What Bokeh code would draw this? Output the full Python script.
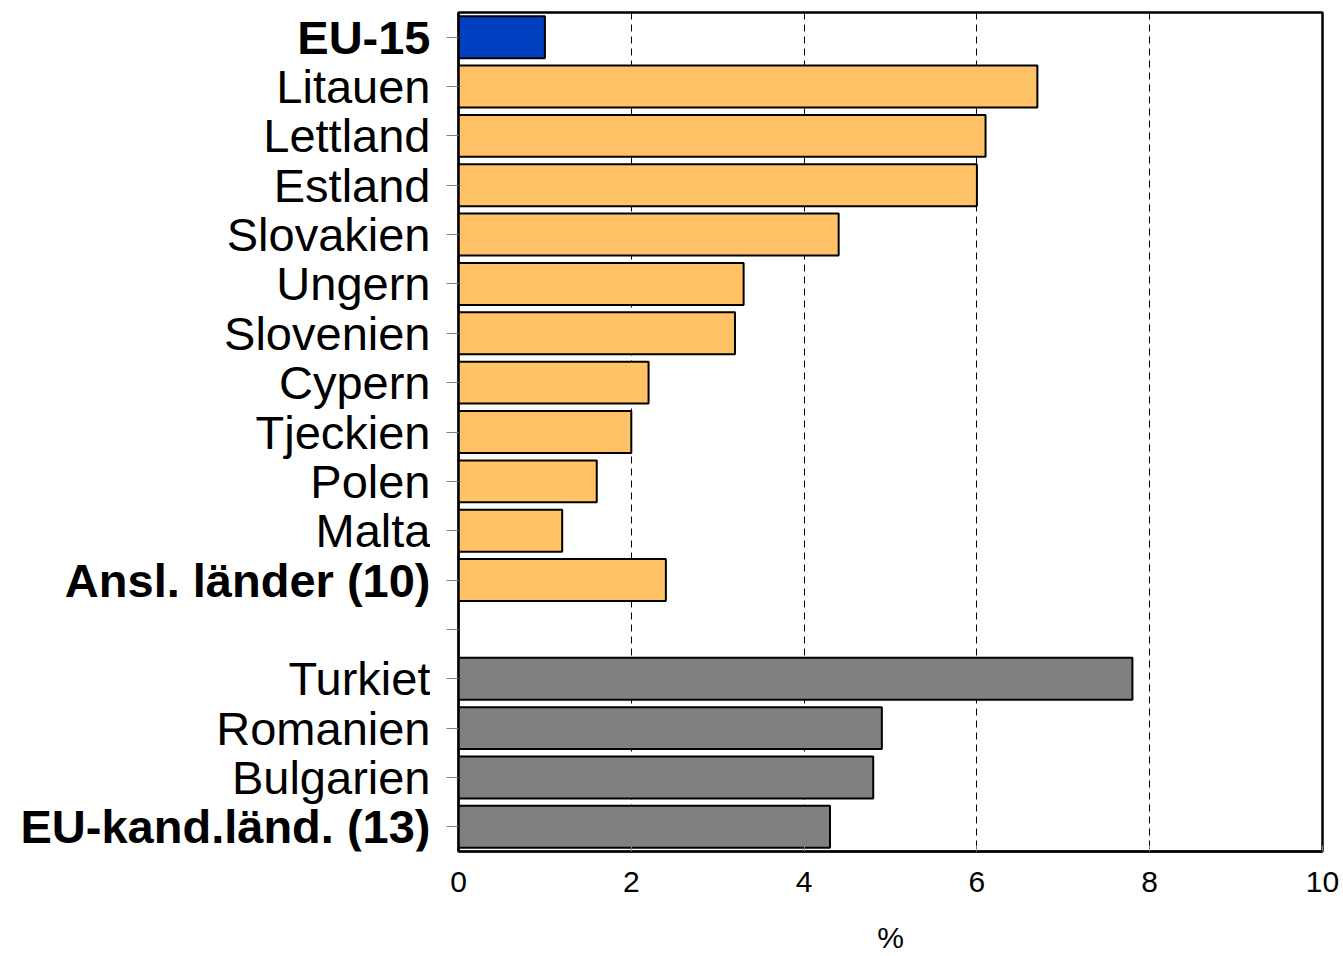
from bokeh.plotting import figure
from bokeh.models import Range1d, FixedTicker, ColumnDataSource
from bokeh.layouts import row
from bokeh.core.properties import value
from bokeh.embed import file_html
from bokeh.resources import INLINE

# ---- data (top to bottom; "" marks the empty gap row) ----
categories = ["EU-15", "Litauen", "Lettland", "Estland", "Slovakien", "Ungern",
              "Slovenien", "Cypern", "Tjeckien", "Polen", "Malta",
              "Ansl. länder (10)", "", "Turkiet", "Romanien", "Bulgarien",
              "EU-kand.länd. (13)"]
values = [1.0, 6.7, 6.1, 6.0, 4.4, 3.3, 3.2, 2.2, 2.0, 1.6, 1.2, 2.4, None,
          7.8, 4.9, 4.8, 4.3]
groups = ["eu15", "ansl", "ansl", "ansl", "ansl", "ansl", "ansl", "ansl", "ansl",
          "ansl", "ansl", "ansl", "gap", "kand", "kand", "kand", "kand"]
bold_labels = ["EU-15", "Ansl. länder (10)", "EU-kand.länd. (13)"]
x_ticks = [0, 2, 4, 6, 8, 10]
x_label = "%"

group_colors = {"eu15": "#0040C0", "ansl": "#FFC266", "kand": "#808080"}

pos = list(range(len(categories)))
rows = [(i, v, group_colors[g]) for i, v, g in zip(pos, values, groups) if v is not None]
src = ColumnDataSource(dict(y=[r[0] for r in rows], right=[r[1] for r in rows],
                            color=[r[2] for r in rows]))

H = 956
TOP = 12
BOTTOM = 105
y_range = Range1d(len(categories) - 0.5, -0.5)

# ---- main chart ----
p = figure(width=910, height=H, output_backend="svg", toolbar_location=None,
           x_range=Range1d(0, 10), y_range=y_range,
           min_border_left=28, min_border_right=18, min_border_top=TOP,
           min_border_bottom=BOTTOM)

p.hbar(y="y", left=0, right="right", height=0.85, source=src,
       fill_color="color", line_color="black", line_width=2)

p.outline_line_color = "black"
p.outline_line_width = 2.5
p.outline_line_alpha = 1.0

p.ygrid.grid_line_color = None
p.xgrid.grid_line_color = "black"
p.xgrid.grid_line_dash = "7 5"
p.xgrid.grid_line_width = 1

p.xaxis.ticker = FixedTicker(ticks=x_ticks)
p.xaxis.axis_label = x_label
p.xaxis.axis_label_text_font = "Liberation Sans"
p.xaxis.axis_label_text_font_size = "30px"
p.xaxis.axis_label_text_font_style = "normal"
p.xaxis.axis_label_text_color = "black"
p.xaxis.axis_label_standoff = 26
p.xaxis.major_label_text_font = "Liberation Sans"
p.xaxis.major_label_text_font_size = "30px"
p.xaxis.major_label_text_color = "black"
p.xaxis.major_label_standoff = 20
p.xaxis.major_tick_in = 6
p.xaxis.major_tick_out = 0
p.xaxis.major_tick_line_color = "#808080"
p.xaxis.minor_tick_line_color = None
p.xaxis.axis_line_color = "black"
p.xaxis.axis_line_width = 2

p.yaxis.ticker = FixedTicker(ticks=pos)
p.yaxis.major_label_overrides = {i: "" for i in pos}
p.yaxis.major_label_standoff = 0
p.yaxis.major_tick_out = 12
p.yaxis.major_tick_in = 0
p.yaxis.major_tick_line_color = "#808080"
p.yaxis.minor_tick_line_color = None
p.yaxis.axis_line_color = "black"
p.yaxis.axis_line_width = 2

# ---- category label column ----
lab = figure(width=430, height=H, output_backend="svg", toolbar_location=None,
             x_range=Range1d(0, 1), y_range=y_range,
             min_border_left=0, min_border_right=0, min_border_top=TOP,
             min_border_bottom=BOTTOM)
lab.axis.visible = False
lab.grid.grid_line_color = None
lab.outline_line_color = None

normal = [(i, c) for i, c in zip(pos, categories) if c and c not in bold_labels]
bold = [(i, c) for i, c in zip(pos, categories) if c in bold_labels]
for items, style in ((normal, "normal"), (bold, "bold")):
    lab.text(x=[1] * len(items), y=[i for i, _ in items], text=[c for _, c in items],
             text_align="right", text_baseline="middle",
             text_font=value("Liberation Sans"), text_font_size="47px",
             text_font_style=style, text_color="black")

layout = row(lab, p, spacing=0)
open("out.html", "w").write(file_html(layout, INLINE))
